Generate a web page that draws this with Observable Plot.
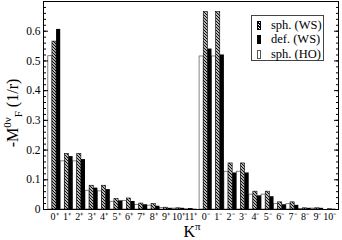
<!DOCTYPE html>
<html><head><meta charset="utf-8">
<script src="https://cdn.jsdelivr.net/npm/d3@7"></script>
<script src="https://cdn.jsdelivr.net/npm/@observablehq/plot@0.6"></script>
<style>
body{margin:0;background:#fff;}
#wrap{position:relative;width:342px;height:240px;font-family:"Liberation Serif",serif;}
#legend{position:absolute;left:251px;top:15px;width:73px;height:46px;border:1px solid #444;background:#fff;box-sizing:border-box;padding-top:2px;}
.row{display:flex;align-items:center;height:14.5px;font-size:12.5px;color:#000;}
.sw{width:4px;height:9px;margin-left:5px;margin-right:10px;box-sizing:border-box;border:1px solid #000;}
</style>
</head><body><div id="wrap"></div>
<script>
// categories
const posLabels = ["0⁺","1⁺","2⁺","3⁺","4⁺","5⁺","6⁺","7⁺","8⁺","9⁺","10⁺","11⁺"];
const negLabels = ["0⁻","1⁻","2⁻","3⁻","4⁻","5⁻","6⁻","7⁻","8⁻","9⁻","10⁻"];
// series values (positive parity)
const hoPos  = [0.516,0.162,0.162,0.063,0.061,0.026,0.029,0.015,0.013,0.005,0.003,0.001];
const wsPos  = [0.565,0.187,0.187,0.080,0.080,0.035,0.037,0.020,0.018,0.006,0.004,0.002];
const defPos = [0.606,0.178,0.168,0.072,0.067,0.029,0.027,0.016,0.011,0.004,0.004,0.001];
// series values (negative parity)
const hoNeg  = [0.515,0.515,0.127,0.127,0.050,0.050,0.018,0.018,0.002,0.003,0.000];
const wsNeg  = [0.664,0.664,0.155,0.155,0.060,0.060,0.024,0.024,0.004,0.004,0.001];
const defNeg = [0.540,0.520,0.123,0.123,0.046,0.043,0.016,0.014,0.004,0.004,0.001];
// y tick labels
const yTicks = [0,0.1,0.2,0.3,0.4,0.5,0.6];
const yMinor = d3.range(0,0.70001,0.02);
const negOffset = 12.2;

const rows = [];
posLabels.forEach((k,i)=>rows.push({k, p:i, ho:hoPos[i], ws:wsPos[i], def:defPos[i]}));
negLabels.forEach((k,j)=>rows.push({k, p:negOffset+j, ho:hoNeg[j], ws:wsNeg[j], def:defNeg[j]}));
const w = 1/3;
const FF = "Liberation Serif";

const chart = Plot.plot({
  width: 342, height: 240,
  marginLeft: 43, marginRight: 4, marginTop: 1, marginBottom: 31,
  style: {fontFamily: FF, fontSize: "11px", background: "#fff", color: "#000"},
  x: {domain: [-0.887, 22.9], label: null},
  y: {domain: [0, 0.7], label: null},
  marks: [
    Plot.rectY(rows, {x1: d=>d.p-0.5, x2: d=>d.p-0.5+w, y1: 0, y2: "ho", fill: "#fff", stroke: "#666", strokeWidth: 0.8, inset: 0}),
    Plot.rectY(rows, {x1: d=>d.p-0.5+w, x2: d=>d.p-0.5+2*w, y1: 0, y2: "ws", fill: "url(#hatch)", stroke: "#000", strokeWidth: 0.6, inset: 0}),
    Plot.rectY(rows, {x1: d=>d.p-0.5+2*w, x2: d=>d.p+0.5, y1: 0, y2: "def", fill: "#000", inset: 0}),
    Plot.axisY({ticks: yTicks, tickSize: 0, tickPadding: 3, tickFormat: d=> d===0 ? "0" : d3.format(".1f")(d), label: null, fontFamily: FF, fontSize: 11.5}),
    Plot.axisY({ticks: yTicks, tickSize: -5, text: null, label: null}),
    Plot.axisY({ticks: yMinor, tickSize: -3, text: null, label: null}),
    Plot.axisY({anchor: "right", ticks: yTicks, tickSize: -5, text: null, label: null}),
    Plot.axisY({anchor: "right", ticks: yMinor, tickSize: -3, text: null, label: null}),
    Plot.axisX({ticks: rows.map(d=>d.p), tickFormat: p => rows.find(d=>d.p===p).k, tickSize: 0, tickPadding: 3, label: null, fontFamily: FF, fontSize: 10, letterSpacing: "-0.6px"}),
    Plot.frame({stroke: "#000"})
  ]
});

const svg = d3.select(chart);
const defs = svg.insert("defs", ":first-child");
const pat = defs.append("pattern").attr("id","hatch").attr("patternUnits","userSpaceOnUse").attr("width",3).attr("height",3);
pat.append("rect").attr("width",3).attr("height",3).attr("fill","#fff");
pat.append("path").attr("d","M-1,-1L4,4M-1,2L1,4M2,-1L4,1").attr("stroke","#000").attr("stroke-width",1.1);

// y axis title
const yt = svg.append("text").attr("transform","translate(18,113) rotate(-90)").attr("text-anchor","middle")
  .style("font-family",FF).style("font-size","16px").attr("fill","#000");
yt.append("tspan").text("-M");
yt.append("tspan").attr("dy",-7).style("font-size","11px").text("0ν");
yt.append("tspan").attr("dy",11).style("font-size","11px").text("F");
yt.append("tspan").attr("dy",-4).text(" (1/r)");

// x axis title
const xt = svg.append("text").attr("x",192).attr("y",236.5).attr("text-anchor","middle")
  .style("font-family",FF).style("font-size","16px").attr("fill","#000");
xt.append("tspan").text("K");
xt.append("tspan").attr("dy",-7).style("font-size","11px").text("π");

const wrap = document.getElementById("wrap");
wrap.appendChild(chart);

// legend
const series = [
  {name: "sph. (WS)", bg: "repeating-linear-gradient(45deg,#000 0 1px,#fff 1px 2px)"},
  {name: "def. (WS)", bg: "#000"},
  {name: "sph. (HO)", bg: "#fff"}
];
const lg = document.createElement("div");
lg.id = "legend";
series.forEach(s=>{
  const r = document.createElement("div"); r.className = "row";
  const sw = document.createElement("span"); sw.className = "sw"; sw.style.background = s.bg;
  if (s.name === "sph. (HO)") sw.style.borderColor = "#555";
  const t = document.createElement("span"); t.textContent = s.name;
  r.appendChild(sw); r.appendChild(t); lg.appendChild(r);
});
wrap.appendChild(lg);
</script>
</body></html>
